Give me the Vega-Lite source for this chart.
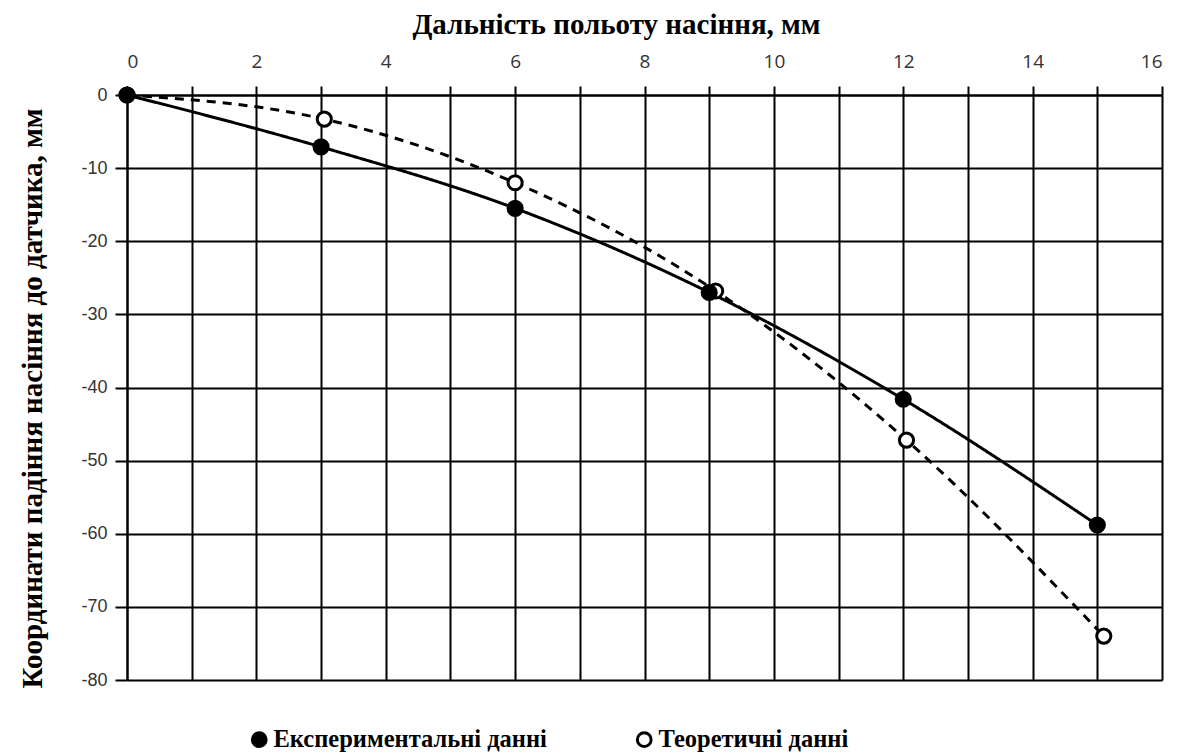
{
  "$schema": "https://vega.github.io/schema/vega-lite/v6.json",
  "width": 1035,
  "height": 585,
  "autosize": {"type": "none"},
  "padding": {"left": 127, "top": 95, "right": 22, "bottom": 74},
  "background": "white",
  "config": {"view": {"stroke": null}},
  "data": {
    "values": [
      {"series": "Теоретичні данні", "x": 0, "y": 0},
      {"series": "Теоретичні данні", "x": 3.05, "y": -3.3},
      {"series": "Теоретичні данні", "x": 6.0, "y": -12.0},
      {"series": "Теоретичні данні", "x": 9.1, "y": -26.8},
      {"series": "Теоретичні данні", "x": 12.05, "y": -47.2},
      {"series": "Теоретичні данні", "x": 15.1, "y": -74.0},
      {"series": "Експериментальні данні", "x": 0, "y": 0},
      {"series": "Експериментальні данні", "x": 3.0, "y": -7.1},
      {"series": "Експериментальні данні", "x": 6.0, "y": -15.5},
      {"series": "Експериментальні данні", "x": 9.0, "y": -27.0},
      {"series": "Експериментальні данні", "x": 12.0, "y": -41.6},
      {"series": "Експериментальні данні", "x": 15.0, "y": -58.8}
    ]
  },
  "encoding": {
    "x": {
      "field": "x", "type": "quantitative",
      "scale": {"domain": [0, 16], "nice": false, "zero": false},
      "axis": {
        "orient": "top",
        "values": [0,1,2,3,4,5,6,7,8,9,10,11,12,13,14,15,16],
        "labelExpr": "datum.value % 2 == 0 ? toString(datum.value) : ''",
        "title": "Дальність польоту насіння, мм",
        "titleFont": "Liberation Serif", "titleFontSize": 29, "titleFontWeight": "bold", "titleColor": "black",
        "titleX": 489, "titleY": -56,
        "labelFont": "Open Sans", "labelFontSize": 19, "labelColor": "#333",
        "labelPadding": 15,
        "tickSize": 9, "tickColor": "black", "tickWidth": 2,
        "grid": true, "gridColor": "black", "gridWidth": 2, "gridOpacity": 1,
        "domain": true, "domainColor": "black", "domainWidth": 2
      }
    },
    "y": {
      "field": "y", "type": "quantitative",
      "scale": {"domain": [-80, 0], "nice": false, "zero": false},
      "axis": {
        "values": [0,-10,-20,-30,-40,-50,-60,-70,-80],
        "labelExpr": "toString(datum.value)",
        "title": "Координати падіння насіння до датчика, мм",
        "titleFont": "Liberation Serif", "titleFontSize": 29, "titleFontWeight": "bold", "titleColor": "black",
        "titleX": -80, "titleY": 303,
        "labelFont": "Liberation Sans", "labelFontSize": 18, "labelColor": "#333",
        "labelPadding": 8,
        "tickSize": 12, "tickColor": "black", "tickWidth": 2,
        "grid": true, "gridColor": "black", "gridWidth": 2, "gridOpacity": 1,
        "domain": true, "domainColor": "black", "domainWidth": 2
      }
    }
  },
  "layer": [
    {
      "mark": {"type": "line", "interpolate": "monotone", "color": "black", "strokeWidth": 3},
      "encoding": {
        "detail": {"field": "series", "type": "nominal"},
        "strokeDash": {
          "condition": {"test": "datum.series == 'Теоретичні данні'", "value": [9, 7]},
          "value": [1, 0]
        }
      }
    },
    {
      "mark": {"type": "point", "shape": "circle", "stroke": "black", "strokeWidth": 3, "opacity": 1, "size": 200},
      "encoding": {
        "fill": {
          "field": "series", "type": "nominal",
          "scale": {"domain": ["Експериментальні данні", "Теоретичні данні"], "range": ["black", "white"]},
          "legend": {
            "title": null,
            "orient": "none",
            "legendX": 120,
            "legendY": 632,
            "direction": "horizontal",
            "columnPadding": 84,
            "symbolType": "circle",
            "symbolSize": 190,
            "symbolStrokeColor": "black",
            "symbolStrokeWidth": 3,
            "symbolOpacity": 1,
            "labelFont": "Liberation Serif",
            "labelFontSize": 24.5,
            "labelFontWeight": "bold",
            "labelColor": "black",
            "labelOffset": 2,
            "labelLimit": 400
          }
        }
      }
    }
  ]
}
